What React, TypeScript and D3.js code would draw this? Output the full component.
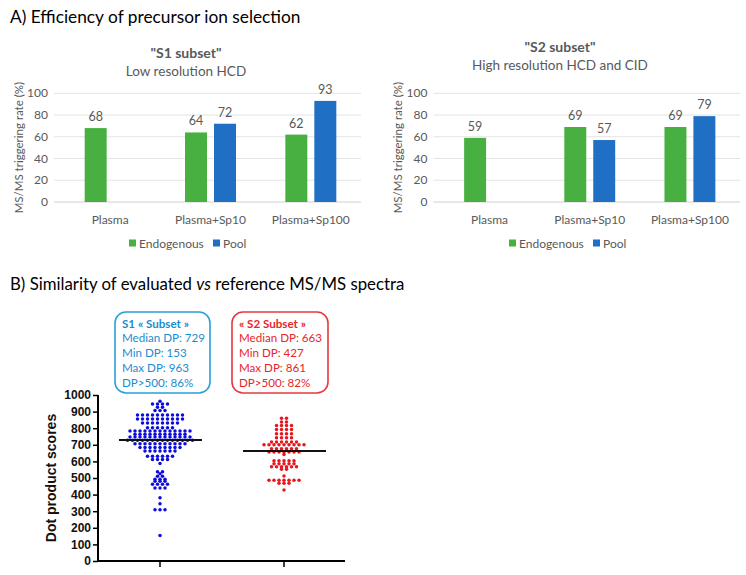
import React, { useEffect, useRef } from 'react';
import * as d3 from 'd3';

// bar charts (panel A)
const categories = ['Plasma', 'Plasma+Sp10', 'Plasma+Sp100'];
const seriesNames = ['Endogenous', 'Pool'];
const s1Endogenous = [68, 64, 62];
const s1Pool = [null, 72, 93];
const s2Endogenous = [59, 69, 69];
const s2Pool = [null, 57, 79];
const rateTicks = [0, 20, 40, 60, 80, 100];

// dot plot (panel B)
const dpTicks = [0, 100, 200, 300, 400, 500, 600, 700, 800, 900, 1000];
const s1Scores = [
  963,
  947, 946, 945, 946,
  927, 925,
  907, 906, 905,
  881, 880, 879, 880, 882, 878, 880, 881, 879, 880,
  856, 855, 854, 855, 857, 853, 855, 856, 854, 855,
  832, 831, 830, 831, 833, 829, 831, 830,
  804, 803, 802, 803, 805, 803,
  784, 783, 782, 783, 785, 781, 783, 784, 782, 783, 784, 782, 783,
  764, 763, 762, 763, 765, 761, 763, 764, 762, 763, 763,
  748, 747, 746, 747, 749, 745, 747, 748, 746, 747, 748, 746, 747,
  728, 727, 726, 727, 729, 725, 727, 728, 726, 727, 728, 726, 727, 727,
  708, 707, 706, 707, 709, 705, 707, 708, 706, 707, 707,
  684, 683, 682, 683, 685, 681, 683, 684, 682,
  664, 663, 662, 663, 665, 661, 663,
  631, 630, 629, 630, 632, 630,
  612, 611, 610, 611,
  587,
  538, 536,
  526,
  511, 509,
  493, 492, 491,
  481, 480, 479,
  463, 462, 461, 462,
  441, 440, 439,
  381,
  345,
  310, 309, 308,
  153,
];
const s2Scores = [
  861, 860,
  838, 837,
  818, 817, 816, 817,
  793, 792, 791, 792,
  767, 766, 765, 766,
  743, 742, 741, 742,
  717, 716, 715, 716, 717, 716,
  701, 700, 699, 700, 702, 698, 700, 701, 699,
  677, 676, 675, 676, 677, 675,
  657, 656, 655, 656, 657, 655, 656,
  641,
  604, 603, 602, 603, 604,
  587, 586, 585, 586, 587,
  569, 568, 567, 568, 569, 567,
  553, 552,
  512,
  488, 487, 486, 487, 488, 486, 487,
  469, 468, 467,
  427,
];
const s1Median = 729;
const s2Median = 663;
const s1Stats = ['S1 « Subset »', 'Median DP: 729', 'Min DP: 153', 'Max DP: 963', 'DP>500: 86%'];
const s2Stats = ['« S2 Subset »', 'Median DP: 663', 'Min DP: 427', 'Max DP: 861', 'DP>500: 82%'];

const GREEN = '#48b040';
const BLUE = '#1f6fc4';
const GRAY = '#595959';
const FONT = 'Lato, "Open Sans", sans-serif';
const ARIAL = '"Liberation Sans", Arial, sans-serif';

function drawBarChart(svg, opts) {
  const { x0, x1, title, subtitle, titleX, titleY, endo, pool, axisTitleX, legendX } = opts;
  const yTop = 93.3, yBottom = 202;
  const g = svg.append('g');

  const y = d3.scaleLinear().domain([0, 100]).range([yBottom, yTop]);
  const x = d3.scaleBand().domain(categories).range([x0, x1]).paddingInner(0.492).paddingOuter(0.246);
  const xs = d3.scaleBand().domain(seriesNames).range([0, x.bandwidth()]).paddingInner(0.2414);
  const color = d3.scaleOrdinal().domain(seriesNames).range([GREEN, BLUE]);

  g.append('text').attr('x', titleX).attr('y', titleY)
    .attr('text-anchor', 'middle').attr('font-weight', 'bold').attr('font-size', 14)
    .attr('fill', GRAY).text(title);
  g.append('text').attr('x', titleX).attr('y', titleY + 18)
    .attr('text-anchor', 'middle').attr('font-size', 13.5)
    .attr('fill', GRAY).text(subtitle);

  // gridlines + tick labels
  g.selectAll('.grid').data(rateTicks).enter().append('line')
    .attr('x1', x0 - 6).attr('x2', x1)
    .attr('y1', d => y(d)).attr('y2', d => y(d))
    .attr('stroke', d => d === 0 ? '#d0d0d0' : '#e3e3e3').attr('stroke-width', 1);
  g.selectAll('.tick').data(rateTicks).enter().append('text')
    .attr('x', x0 - 12).attr('y', d => y(d) + 4)
    .attr('text-anchor', 'end').attr('font-size', 12).attr('fill', GRAY)
    .text(d => d);

  g.append('text')
    .attr('transform', 'translate(' + axisTitleX + ',' + (yTop + yBottom) / 2 + ') rotate(-90)')
    .attr('text-anchor', 'middle').attr('font-size', 11.5).attr('fill', GRAY)
    .text('MS/MS triggering rate (%)');

  const rows = categories.map((c, i) => ({ cat: c, values: [
    { key: 'Endogenous', value: endo[i] },
    { key: 'Pool', value: pool[i] },
  ].filter(d => d.value != null) }));

  const groups = g.selectAll('.grp').data(rows).enter().append('g')
    .attr('transform', d => 'translate(' + x(d.cat) + ',0)');
  groups.selectAll('rect').data(d => d.values).enter().append('rect')
    .attr('x', d => xs(d.key)).attr('width', xs.bandwidth())
    .attr('y', d => y(d.value)).attr('height', d => yBottom - y(d.value))
    .attr('fill', d => color(d.key));
  groups.selectAll('.lbl').data(d => d.values).enter().append('text')
    .attr('x', d => xs(d.key) + xs.bandwidth() / 2).attr('y', d => y(d.value) - 7)
    .attr('text-anchor', 'middle').attr('font-size', 12.5).attr('fill', GRAY)
    .text(d => d.value);

  g.selectAll('.cat').data(categories).enter().append('text')
    .attr('x', d => x(d) + x.bandwidth() / 2).attr('y', 223.5)
    .attr('text-anchor', 'middle').attr('font-size', 12).attr('fill', GRAY)
    .text(d => d);

  // legend
  const leg = g.selectAll('.leg').data(seriesNames).enter().append('g')
    .attr('transform', (d, i) => 'translate(' + legendX[i] + ',239.5)');
  leg.append('rect').attr('width', 7).attr('height', 7).attr('fill', d => color(d));
  leg.append('text').attr('x', 10).attr('y', 8).attr('font-size', 12).attr('fill', GRAY).text(d => d);
}

// group close values into rows and centre each row, like a prism scatter dot plot
function dotRows(values, y, step) {
  const sorted = values.slice().sort((a, b) => b - a);
  const rows = [];
  sorted.forEach(v => {
    const last = rows[rows.length - 1];
    if (last && last[0] - v <= 6) last.push(v);
    else rows.push([v]);
  });
  const pts = [];
  rows.forEach(row => {
    const mean = d3.mean(row);
    row.forEach((v, i) => {
      pts.push({ value: v, y: y(mean), dx: (i - (row.length - 1) / 2) * step });
    });
  });
  return pts;
}

function drawDotPlot(svg) {
  const g = svg.append('g');
  const axisX = 98, xEnd = 345;
  const y = d3.scaleLinear().domain([0, 1000]).range([561, 395]);
  const x = d3.scalePoint().domain(['S1', 'S2']).range([160, 284]);
  const r = 1.75;

  g.append('text')
    .attr('transform', 'translate(56,' + y(500) + ') rotate(-90)')
    .attr('text-anchor', 'middle').attr('font-family', ARIAL)
    .attr('font-weight', 'bold').attr('font-size', 14).attr('fill', '#111')
    .text('Dot product scores');

  const yAxis = g.append('g').attr('transform', 'translate(' + axisX + ',0)')
    .call(d3.axisLeft(y).tickValues(dpTicks).tickFormat(d3.format('d')).tickSize(5).tickPadding(2));
  yAxis.attr('font-family', ARIAL);
  yAxis.select('.domain').attr('stroke-width', 2).attr('d', 'M0,' + y(1000) + 'V' + y(0));
  yAxis.selectAll('.tick line').attr('stroke-width', 1.5);
  yAxis.selectAll('text')
    .attr('font-weight', 'bold').attr('font-size', 12).attr('fill', '#111');

  g.append('line').attr('x1', axisX - 1).attr('x2', xEnd).attr('y1', y(0)).attr('y2', y(0))
    .attr('stroke', '#000').attr('stroke-width', 2);
  g.selectAll('.xt').data(x.domain()).enter().append('line')
    .attr('x1', d => x(d)).attr('x2', d => x(d)).attr('y1', y(0)).attr('y2', y(0) + 6)
    .attr('stroke', '#000').attr('stroke-width', 1.5);

  const sets = [
    { key: 'S1', scores: s1Scores, median: s1Median, color: '#0c0cdc' },
    { key: 'S2', scores: s2Scores, median: s2Median, color: '#e8161c' },
  ];
  sets.forEach(s => {
    const pts = dotRows(s.scores, y, 5);
    g.selectAll('.dot-' + s.key).data(pts).enter().append('circle')
      .attr('cx', d => x(s.key) + d.dx).attr('cy', d => d.y).attr('r', r)
      .attr('fill', s.color);
    g.append('line')
      .attr('x1', x(s.key) - 41).attr('x2', x(s.key) + 42)
      .attr('y1', y(s.median)).attr('y2', y(s.median))
      .attr('stroke', '#111').attr('stroke-width', 2);
  });

  // stats boxes
  const boxes = [
    { x: 115, w: 95, lines: s1Stats, stroke: '#2aa0d8', fill: '#1a8ccf' },
    { x: 232, w: 96, lines: s2Stats, stroke: '#e6383d', fill: '#e8242a' },
  ];
  boxes.forEach(b => {
    g.append('rect').attr('x', b.x).attr('y', 312).attr('width', b.w).attr('height', 81)
      .attr('rx', 11).attr('fill', 'none').attr('stroke', b.stroke).attr('stroke-width', 1.6);
    g.selectAll(null).data(b.lines).enter().append('text')
      .attr('x', b.x + 7).attr('y', (d, i) => 327.5 + i * 14.8)
      .attr('font-size', 11.6).attr('font-weight', (d, i) => i === 0 ? 'bold' : 'normal')
      .attr('fill', b.fill).text(d => d);
  });
}

export default function App() {
  const ref = useRef(null);

  useEffect(() => {
    const svg = d3.select(ref.current);
    svg.selectAll('*').remove();
    svg.attr('font-family', FONT);

    svg.append('text').attr('x', 10).attr('y', 23).attr('font-size', 17.3).attr('fill', '#000')
      .text('A) Efficiency of precursor ion selection');

    drawBarChart(svg, {
      x0: 60, x1: 361, title: '"S1 subset"', subtitle: 'Low resolution HCD',
      titleX: 186, titleY: 57.5, endo: s1Endogenous, pool: s1Pool,
      axisTitleX: 23, legendX: [129, 213],
    });
    drawBarChart(svg, {
      x0: 439.5, x1: 740, title: '"S2 subset"', subtitle: 'High resolution HCD and CID',
      titleX: 560, titleY: 51.5, endo: s2Endogenous, pool: s2Pool,
      axisTitleX: 402, legendX: [509, 593],
    });

    const tB = svg.append('text').attr('x', 10).attr('y', 290).attr('font-size', 16.8).attr('fill', '#000');
    tB.append('tspan').text('B) Similarity of evaluated ');
    tB.append('tspan').attr('font-style', 'italic').text('vs');
    tB.append('tspan').text(' reference MS/MS spectra');

    drawDotPlot(svg);
  }, []);

  return (
    <svg ref={ref} width={746} height={575}
      style={{ position: 'absolute', left: 0, top: 0, background: '#fff' }} />
  );
}
